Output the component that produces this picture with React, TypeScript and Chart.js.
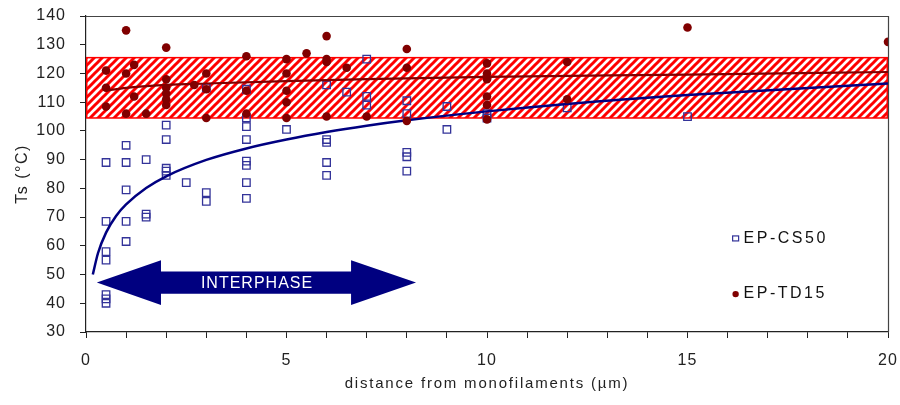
import React, { useEffect, useRef } from 'react';
import { Chart, registerables } from 'chart.js';
Chart.register(...registerables);

// ---- axes ----
const X_MIN = 0;
const X_MAX = 20;
const Y_MIN = 30;
const Y_MAX = 140;
const X_LABEL_EVERY = 5;

// ---- EP-CS50 (open blue squares) ----
const csX = [
  0.5, 0.5, 0.5, 0.5, 0.5, 0.5, 0.5,
  1, 1, 1, 1, 1,
  1.5, 1.5, 1.5,
  2, 2, 2, 2, 2,
  2.5,
  3, 3, 3,
  4, 4, 4, 4, 4, 4, 4, 4,
  5,
  6, 6, 6, 6, 6,
  6.5,
  7, 7, 7,
  8, 8, 8, 8, 8,
  9, 9,
  10, 10,
  12,
  15,
];
const csY = [
  89, 68.5, 58, 55, 43, 41.5, 40,
  95, 89, 79.5, 68.5, 61.5,
  90, 71, 70,
  102, 97, 87, 86, 84.5,
  82,
  115, 78.5, 75.5,
  114.5, 104.5, 101.5, 97, 89.5, 88, 82, 76.5,
  100.5,
  116, 97, 96, 89, 84.5,
  113.5,
  125, 112, 109,
  110.5, 106, 92.5, 91, 86,
  108.5, 100.5,
  106, 104.5,
  108,
  105,
];

// ---- EP-TD15 (filled dark red dots) ----
const tdX = [
  0.5, 0.5, 0.5,
  1, 1, 1,
  1.2, 1.2,
  1.5,
  2, 2, 2, 2, 2, 2,
  2.7,
  3, 3, 3,
  4, 4, 4,
  5, 5, 5, 5, 5,
  5.5,
  6, 6, 6, 6,
  6.5,
  7,
  8, 8, 8,
  10, 10, 10, 10, 10, 10,
  12, 12,
  15,
  20,
];
const tdY = [
  121, 115, 108.5,
  135, 120, 106,
  123, 112,
  106,
  129, 118, 115, 113, 111, 109,
  116,
  120, 114.5, 104.5,
  126, 114, 106,
  125, 120, 114, 110, 104.5,
  127,
  133, 125, 124, 105,
  122,
  105,
  128.5, 122, 103.5,
  123.5, 120, 118, 112, 109, 104,
  124, 111,
  136,
  131,
];

// ---- trend lines ----
const csFitX = [0.17, 0.3, 0.5, 0.75, 1, 1.5, 2, 3, 4, 5, 6, 7, 8, 10, 12, 15, 20];
const csFitY = [50, 57.5, 64.6, 70.4, 74.4, 80.1, 84.2, 89.9, 93.9, 97, 99.6, 101.8, 103.7, 106.8, 109.4, 112.5, 116.5];
const tdFitX = [0.5, 1, 2, 3, 5, 7, 10, 15, 20];
const tdFitY = [114, 115, 116, 116.5, 117.3, 118, 118.8, 119.6, 120.5];

// ---- annotations ----
const BAND_LOW = 104.5;
const BAND_HIGH = 125.5;
const ARROW_LABEL = 'INTERPHASE';
const ARROW_X = [0.27, 1.87, 6.61, 8.23]; // left tip, left head base, right head base, right tip
const ARROW_Y = [47.2, 3.9, 7.8]; // centre, body half-height, head half-height
const LEGEND_LABELS = ['EP-CS50', 'EP-TD15'];
const LEGEND_AT = { x: 16.2, y: [62.4, 43.2] };

// ---- layout (pixels) ----
const AREA = { left: 86, top: 16, right: 888, bottom: 332 };
const W = 900;
const H = 405;

const BLUE = '#333399';
const NAVY = '#000080';
const DARKRED = '#800000';

function makePattern(): CanvasPattern | string {
  const c = document.createElement('canvas');
  c.width = 8;
  c.height = 8;
  const g = c.getContext('2d');
  if (!g) return '#ff8080';
  g.fillStyle = '#ffffff';
  g.fillRect(0, 0, 8, 8);
  g.strokeStyle = '#ff0000';
  g.lineWidth = 3;
  g.beginPath();
  g.moveTo(-4, 4); g.lineTo(4, -4);
  g.moveTo(0, 8); g.lineTo(8, 0);
  g.moveTo(4, 12); g.lineTo(12, 4);
  g.stroke();
  const p = g.createPattern(c, 'repeat');
  return p || '#ff8080';
}

export default function App() {
  const ref = useRef<HTMLCanvasElement | null>(null);
  useEffect(() => {
    document.body.style.margin = '0';
    const canvas = ref.current;
    if (!canvas) return;
    const pattern = makePattern();

    const decor = {
      id: 'decor',
      afterLayout(chart: any) {
        const ca = chart.chartArea;
        ca.left = AREA.left; ca.top = AREA.top; ca.right = AREA.right; ca.bottom = AREA.bottom;
        ca.width = AREA.right - AREA.left; ca.height = AREA.bottom - AREA.top;
        const { x, y } = chart.scales;
        x.left = AREA.left; x.right = AREA.right; x.width = AREA.right - AREA.left;
        x.top = AREA.bottom; x.bottom = H; x.height = H - AREA.bottom;
        y.left = 0; y.right = AREA.left; y.width = AREA.left;
        y.top = AREA.top; y.bottom = AREA.bottom; y.height = AREA.bottom - AREA.top;
        x.configure();
        y.configure();
      },
      beforeDraw(chart: any) {
        (chart.ctx as any).letterSpacing = '1px';
      },
      beforeDatasetsDraw(chart: any) {
        const { ctx, scales } = chart;
        const x = scales.x, y = scales.y;
        const l = x.getPixelForValue(X_MIN);
        const r = x.getPixelForValue(X_MAX);
        const t = y.getPixelForValue(BAND_HIGH);
        const b = y.getPixelForValue(BAND_LOW);
        ctx.save();
        ctx.fillStyle = pattern;
        ctx.fillRect(l, t, r - l, b - t);
        ctx.strokeStyle = '#ff0000';
        ctx.lineWidth = 1.5;
        ctx.strokeRect(l + 0.75, t, r - l - 1.5, b - t);
        ctx.restore();
      },
      afterDatasetsDraw(chart: any) {
        const { ctx, scales } = chart;
        const x = scales.x, y = scales.y;
        // arrow
        const xl = x.getPixelForValue(ARROW_X[0]);
        const xh0 = x.getPixelForValue(ARROW_X[1]);
        const xh1 = x.getPixelForValue(ARROW_X[2]);
        const xr = x.getPixelForValue(ARROW_X[3]);
        const yc = y.getPixelForValue(ARROW_Y[0]);
        const bt = y.getPixelForValue(ARROW_Y[0] + ARROW_Y[1]);
        const bb = y.getPixelForValue(ARROW_Y[0] - ARROW_Y[1]);
        const ht = y.getPixelForValue(ARROW_Y[0] + ARROW_Y[2]);
        const hb = y.getPixelForValue(ARROW_Y[0] - ARROW_Y[2]);
        ctx.save();
        ctx.fillStyle = NAVY;
        ctx.beginPath();
        ctx.moveTo(xl, yc);
        ctx.lineTo(xh0, ht);
        ctx.lineTo(xh0, bt);
        ctx.lineTo(xh1, bt);
        ctx.lineTo(xh1, ht);
        ctx.lineTo(xr, yc);
        ctx.lineTo(xh1, hb);
        ctx.lineTo(xh1, bb);
        ctx.lineTo(xh0, bb);
        ctx.lineTo(xh0, hb);
        ctx.closePath();
        ctx.fill();
        ctx.fillStyle = '#ffffff';
        ctx.font = '16px "Liberation Sans", Arial, sans-serif';
        (ctx as any).letterSpacing = '1px';
        ctx.textAlign = 'center';
        ctx.textBaseline = 'middle';
        ctx.fillText(ARROW_LABEL, (xh0 + xh1) / 2 + 1, yc + 1);

        // legend
        ctx.font = '16px "Liberation Sans", Arial, sans-serif';
        (ctx as any).letterSpacing = '2.5px';
        ctx.textAlign = 'left';
        const lx = x.getPixelForValue(LEGEND_AT.x);
        const ly0 = y.getPixelForValue(LEGEND_AT.y[0]);
        const ly1 = y.getPixelForValue(LEGEND_AT.y[1]);
        ctx.strokeStyle = BLUE;
        ctx.lineWidth = 1.2;
        ctx.strokeRect(lx - 3, ly0 - 3, 6, 5);
        ctx.fillStyle = DARKRED;
        ctx.beginPath();
        ctx.arc(lx, ly1, 3.2, 0, Math.PI * 2);
        ctx.fill();
        ctx.fillStyle = '#111';
        ctx.fillText(LEGEND_LABELS[0], lx + 8, ly0);
        ctx.fillText(LEGEND_LABELS[1], lx + 8, ly1);
        ctx.restore();
      },
      afterDraw(chart: any) {
        const { ctx, chartArea } = chart;
        ctx.save();
        ctx.strokeStyle = '#444';
        ctx.lineWidth = 1.2;
        ctx.beginPath();
        ctx.moveTo(chartArea.left, chartArea.top + 0.5);
        ctx.lineTo(chartArea.right + 0.5, chartArea.top + 0.5);
        ctx.lineTo(chartArea.right + 0.5, chartArea.bottom);
        ctx.stroke();
        // axis titles
        ctx.fillStyle = '#222';
        ctx.font = '15px "Liberation Sans", Arial, sans-serif';
        (ctx as any).letterSpacing = '1.8px';
        ctx.textAlign = 'center';
        ctx.textBaseline = 'middle';
        ctx.fillText('distance from monofilaments (µm)', (chartArea.left + chartArea.right) / 2, 384);
        ctx.translate(23, (chartArea.top + chartArea.bottom) / 2);
        ctx.rotate(-Math.PI / 2);
        ctx.font = '16px "Liberation Sans", Arial, sans-serif';
        (ctx as any).letterSpacing = '1.5px';
        ctx.fillText('Ts (°C)', 0, 0);
        ctx.restore();
      },
    };

    const chart = new Chart(canvas, {
      type: 'scatter',
      data: {
        datasets: [
          {
            label: LEGEND_LABELS[1],
            data: tdX.map((v, i) => ({ x: v, y: tdY[i] })),
            pointStyle: 'circle',
            pointRadius: 4.3,
            backgroundColor: DARKRED,
            borderColor: DARKRED,
            borderWidth: 0,
          },
          {
            type: 'line',
            label: 'td-fit',
            data: tdFitX.map((v, i) => ({ x: v, y: tdFitY[i] })),
            borderColor: DARKRED,
            borderWidth: 2.2,
            pointRadius: 0,
            cubicInterpolationMode: 'monotone',
            fill: false,
          },
          {
            type: 'line',
            label: 'cs-fit',
            data: csFitX.map((v, i) => ({ x: v, y: csFitY[i] })),
            borderColor: NAVY,
            borderWidth: 2.5,
            pointRadius: 0,
            cubicInterpolationMode: 'monotone',
            fill: false,
          },
          {
            label: LEGEND_LABELS[0],
            data: csX.map((v, i) => ({ x: v, y: csY[i] })),
            pointStyle: 'rect',
            pointRadius: 5.3,
            backgroundColor: 'rgba(255,255,255,0)',
            borderColor: BLUE,
            borderWidth: 1.3,
          },
        ] as any,
      },
      options: {
        animation: false,
        responsive: false,
        devicePixelRatio: 1,
        layout: { padding: { top: 10, right: 2, left: 0, bottom: 0 } },
        plugins: { legend: { display: false }, tooltip: { enabled: false } },
        scales: {
          x: {
            type: 'linear',
            min: X_MIN,
            max: X_MAX,
            afterFit: (s: any) => { s.height = 71; },
            ticks: {
              stepSize: 1,
              autoSkip: false,
              maxRotation: 0,
              padding: 13,
              color: '#222',
              font: { size: 16, family: '"Liberation Sans", Arial, sans-serif' },
              callback: (v: any) => (Number(v) % X_LABEL_EVERY === 0 ? String(v) : ''),
            },
            grid: { drawOnChartArea: false, drawTicks: true, tickLength: 6, color: '#222', lineWidth: 1 },
            border: { display: true, color: '#222', width: 1.2 },
          },
          y: {
            type: 'linear',
            min: Y_MIN,
            max: Y_MAX,
            afterFit: (s: any) => { s.width = 86; },
            ticks: {
              stepSize: 10,
              padding: 14,
              color: '#222',
              font: { size: 16, family: '"Liberation Sans", Arial, sans-serif' },
            },
            grid: { drawOnChartArea: false, drawTicks: true, tickLength: 6, color: '#222', lineWidth: 1 },
            border: { display: true, color: '#222', width: 1.2 },
          },
        },
      },
      plugins: [decor],
    } as any);
    return () => chart.destroy();
  }, []);
  return (
    <div style={{ width: W, height: H }}>
      <canvas ref={ref} width={W} height={H} style={{ display: 'block', width: W, height: H }} />
    </div>
  );
}
